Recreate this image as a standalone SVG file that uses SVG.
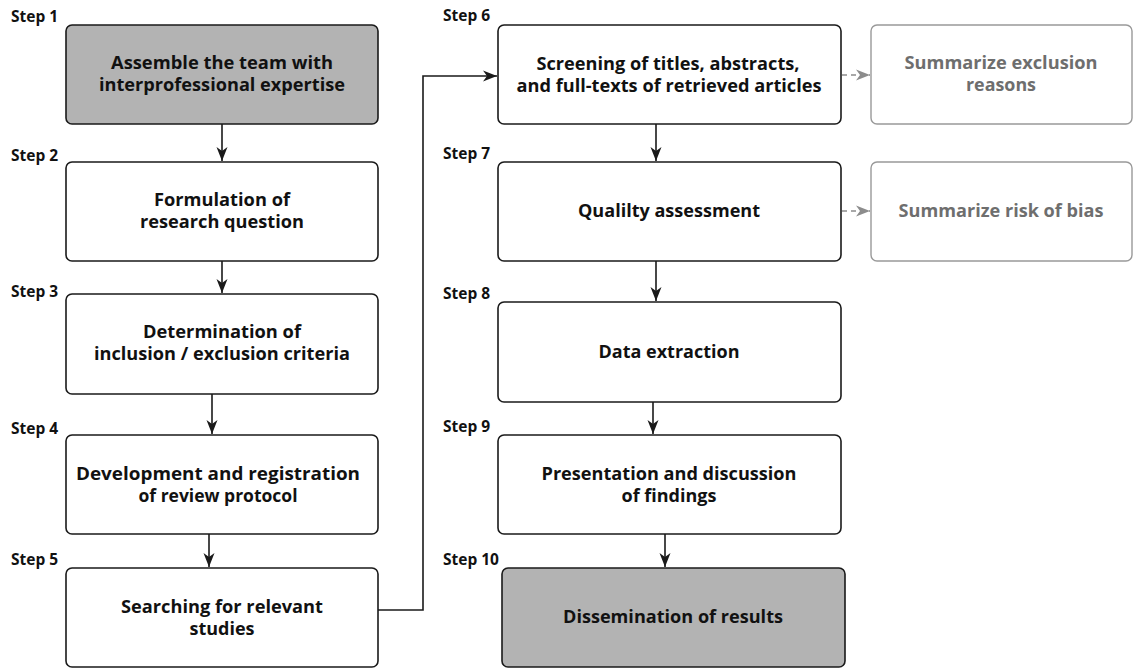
<svg xmlns="http://www.w3.org/2000/svg" width="1137" height="672" viewBox="0 0 1137 672">
<style>
text{font-family:"Open Sans","Liberation Sans",sans-serif;font-weight:bold;}
.t{font-size:17px;fill:#111;text-anchor:middle;}
.g{font-size:17px;fill:#6e6e6e;text-anchor:middle;}
.s{font-size:15.5px;fill:#111;}
.box{fill:#fff;stroke:#1a1a1a;stroke-width:1.6;}
.dark{fill:#b3b3b3;stroke:#1a1a1a;stroke-width:1.6;}
.lite{fill:#fff;stroke:#999;stroke-width:1.4;}
.c{fill:none;stroke:#1a1a1a;stroke-width:1.6;}
.d{fill:none;stroke:#8c8c8c;stroke-width:1.6;stroke-dasharray:5 4;}
</style>
<defs>
<marker id="ah" viewBox="0 0 14 12" refX="14" refY="6" markerWidth="14" markerHeight="12" markerUnits="userSpaceOnUse" orient="auto">
<path d="M0,0.5 L14,6 L0,11.5 L4,6 z" fill="#1a1a1a"/>
</marker>
<marker id="ahg" viewBox="0 0 14 12" refX="14" refY="6" markerWidth="14" markerHeight="12" markerUnits="userSpaceOnUse" orient="auto">
<path d="M0,0.5 L14,6 L0,11.5 L4,6 z" fill="#8c8c8c"/>
</marker>
</defs>
<rect width="1137" height="672" fill="#fff"/>

<g id="connectors">
<line class="c" x1="222" y1="124" x2="222" y2="161" marker-end="url(#ah)"/>
<line class="c" x1="222" y1="261" x2="222" y2="293" marker-end="url(#ah)"/>
<line class="c" x1="212" y1="394" x2="212" y2="434" marker-end="url(#ah)"/>
<line class="c" x1="209" y1="534" x2="209" y2="567" marker-end="url(#ah)"/>
<polyline class="c" points="378,610 423,610 423,76 497,76" marker-end="url(#ah)"/>
<line class="c" x1="656" y1="124" x2="656" y2="161" marker-end="url(#ah)"/>
<line class="c" x1="656" y1="261" x2="656" y2="301" marker-end="url(#ah)"/>
<line class="c" x1="653" y1="402" x2="653" y2="434" marker-end="url(#ah)"/>
<line class="c" x1="665" y1="534" x2="665" y2="567" marker-end="url(#ah)"/>
<line class="d" x1="842" y1="75" x2="870" y2="75" marker-end="url(#ahg)"/>
<line class="d" x1="842" y1="211" x2="870" y2="211" marker-end="url(#ahg)"/>
</g>

<g id="step1">
<text class="s" x="11" y="22">Step 1</text>
<rect class="dark" x="66" y="25" width="312" height="99" rx="6"/>
<text class="t" x="222" y="69" textLength="222" lengthAdjust="spacingAndGlyphs">Assemble the team with</text>
<text class="t" x="222" y="91" textLength="246" lengthAdjust="spacingAndGlyphs">interprofessional expertise</text>
</g>
<g id="step2">
<text class="s" x="11" y="161">Step 2</text>
<rect class="box" x="66" y="162" width="312" height="99" rx="6"/>
<text class="t" x="222" y="206" textLength="136" lengthAdjust="spacingAndGlyphs">Formulation of</text>
<text class="t" x="222" y="228" textLength="164" lengthAdjust="spacingAndGlyphs">research question</text>
</g>
<g id="step3">
<text class="s" x="11" y="297">Step 3</text>
<rect class="box" x="66" y="294" width="312" height="100" rx="6"/>
<text class="t" x="222" y="338" textLength="158" lengthAdjust="spacingAndGlyphs">Determination of</text>
<text class="t" x="222" y="360" textLength="256" lengthAdjust="spacingAndGlyphs">inclusion / exclusion criteria</text>
</g>
<g id="step4">
<text class="s" x="11" y="434">Step 4</text>
<rect class="box" x="66" y="435" width="312" height="99" rx="6"/>
<text class="t" x="218" y="480" textLength="284" lengthAdjust="spacingAndGlyphs">Development and registration</text>
<text class="t" x="218" y="502" textLength="159" lengthAdjust="spacingAndGlyphs">of review protocol</text>
</g>
<g id="step5">
<text class="s" x="11" y="565">Step 5</text>
<rect class="box" x="66" y="568" width="312" height="99" rx="6"/>
<text class="t" x="222" y="613" textLength="202" lengthAdjust="spacingAndGlyphs">Searching for relevant</text>
<text class="t" x="222" y="635" textLength="65" lengthAdjust="spacingAndGlyphs">studies</text>
</g>
<g id="step6">
<text class="s" x="443" y="21">Step 6</text>
<rect class="box" x="498" y="25" width="343" height="99" rx="6"/>
<text class="t" x="668" y="70" textLength="263" lengthAdjust="spacingAndGlyphs">Screening of titles, abstracts,</text>
<text class="t" x="669" y="92" textLength="305" lengthAdjust="spacingAndGlyphs">and full-texts of retrieved articles</text>
</g>
<g id="step7">
<text class="s" x="443" y="159">Step 7</text>
<rect class="box" x="498" y="162" width="343" height="99" rx="6"/>
<text class="t" x="669" y="217" textLength="182" lengthAdjust="spacingAndGlyphs">Qualilty assessment</text>
</g>
<g id="step8">
<text class="s" x="443" y="299">Step 8</text>
<rect class="box" x="498" y="302" width="343" height="100" rx="6"/>
<text class="t" x="669" y="358" textLength="141" lengthAdjust="spacingAndGlyphs">Data extraction</text>
</g>
<g id="step9">
<text class="s" x="443" y="432">Step 9</text>
<rect class="box" x="498" y="435" width="343" height="99" rx="6"/>
<text class="t" x="669" y="480" textLength="255" lengthAdjust="spacingAndGlyphs">Presentation and discussion</text>
<text class="t" x="669" y="502" textLength="95" lengthAdjust="spacingAndGlyphs">of findings</text>
</g>
<g id="step10">
<text class="s" x="443" y="565">Step 10</text>
<rect class="dark" x="502" y="568" width="343" height="99" rx="6"/>
<text class="t" x="673" y="623" textLength="220" lengthAdjust="spacingAndGlyphs">Dissemination of results</text>
</g>
<g id="exclusion">
<rect class="lite" x="871" y="25" width="261" height="99" rx="6"/>
<text class="g" x="1001" y="69" textLength="193" lengthAdjust="spacingAndGlyphs">Summarize exclusion</text>
<text class="g" x="1001" y="91" textLength="70" lengthAdjust="spacingAndGlyphs">reasons</text>
</g>
<g id="bias">
<rect class="lite" x="871" y="162" width="261" height="99" rx="6"/>
<text class="g" x="1001" y="217" textLength="205" lengthAdjust="spacingAndGlyphs">Summarize risk of bias</text>
</g>
</svg>
